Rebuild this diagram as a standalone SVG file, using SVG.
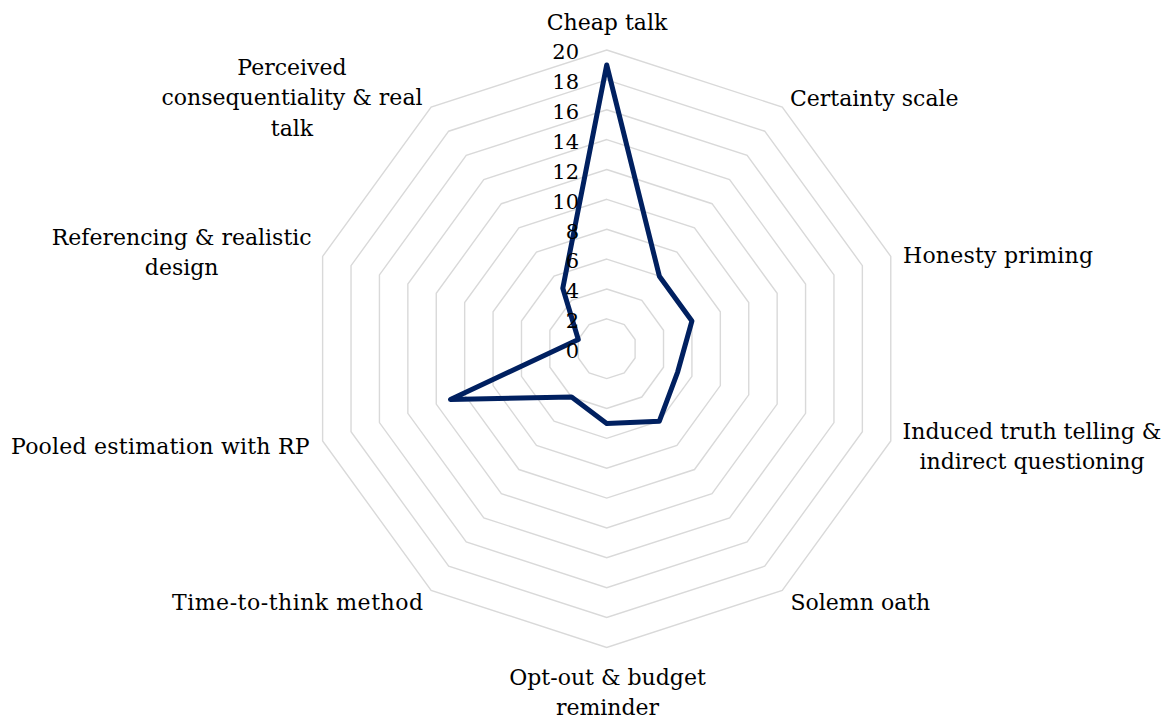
<svg xmlns="http://www.w3.org/2000/svg" width="1168" height="722" viewBox="0 0 1168 722">
<style>
.ring{fill:none;stroke:#d9d9d9;stroke-width:1.4}
.lbl{font-family:"DejaVu Serif","Liberation Serif",serif;font-size:22px;fill:#000}
.tick{font-family:"DejaVu Serif","Liberation Serif",serif;font-size:21px;fill:#000;text-anchor:end}
.series{fill:none;stroke:#002060;stroke-width:5;stroke-linejoin:round}
</style>
<rect width="1168" height="722" fill="#fff"/>
<g id="grid" transform="translate(606.7,348.7)">
<polygon class="ring" points="0,-29.87 17.56,-24.17 28.41,-9.23 28.41,9.23 17.56,24.17 0,29.87 -17.56,24.17 -28.41,9.23 -28.41,-9.23 -17.56,-24.17"/>
<polygon class="ring" points="0,-59.74 35.11,-48.33 56.82,-18.46 56.82,18.46 35.11,48.33 0,59.74 -35.11,48.33 -56.82,18.46 -56.82,-18.46 -35.11,-48.33"/>
<polygon class="ring" points="0,-89.61 52.67,-72.50 85.22,-27.69 85.22,27.69 52.67,72.50 0,89.61 -52.67,72.50 -85.22,27.69 -85.22,-27.69 -52.67,-72.50"/>
<polygon class="ring" points="0,-119.48 70.23,-96.66 113.63,-36.92 113.63,36.92 70.23,96.66 0,119.48 -70.23,96.66 -113.63,36.92 -113.63,-36.92 -70.23,-96.66"/>
<polygon class="ring" points="0,-149.35 87.79,-120.83 142.04,-46.15 142.04,46.15 87.79,120.83 0,149.35 -87.79,120.83 -142.04,46.15 -142.04,-46.15 -87.79,-120.83"/>
<polygon class="ring" points="0,-179.22 105.34,-144.99 170.45,-55.38 170.45,55.38 105.34,144.99 0,179.22 -105.34,144.99 -170.45,55.38 -170.45,-55.38 -105.34,-144.99"/>
<polygon class="ring" points="0,-209.09 122.90,-169.16 198.86,-64.61 198.86,64.61 122.90,169.16 0,209.09 -122.90,169.16 -198.86,64.61 -198.86,-64.61 -122.90,-169.16"/>
<polygon class="ring" points="0,-238.96 140.46,-193.32 227.26,-73.84 227.26,73.84 140.46,193.32 0,238.96 -140.46,193.32 -227.26,73.84 -227.26,-73.84 -140.46,-193.32"/>
<polygon class="ring" points="0,-268.83 158.01,-217.49 255.67,-83.07 255.67,83.07 158.01,217.49 0,268.83 -158.01,217.49 -255.67,83.07 -255.67,-83.07 -158.01,-217.49"/>
<polygon class="ring" points="0,-298.70 175.57,-241.65 284.08,-92.30 284.08,92.30 175.57,241.65 0,298.70 -175.57,241.65 -284.08,92.30 -284.08,-92.30 -175.57,-241.65"/>
</g>
<g id="series" transform="translate(606.7,348.7)">
<polygon class="series" points="0,-283.77 52.67,-72.50 85.22,-27.69 71.02,23.08 52.67,72.50 0,74.68 -35.11,48.33 -156.25,50.77 -28.41,-9.23 -43.90,-60.42"/>
</g>
<g id="ticks">
<text class="tick" x="579" y="358.0">0</text>
<text class="tick" x="579" y="328.1">2</text>
<text class="tick" x="579" y="298.3">4</text>
<text class="tick" x="579" y="268.4">6</text>
<text class="tick" x="579" y="238.5">8</text>
<text class="tick" x="579" y="208.7">10</text>
<text class="tick" x="579" y="178.8">12</text>
<text class="tick" x="579" y="148.9">14</text>
<text class="tick" x="579" y="119.1">16</text>
<text class="tick" x="579" y="89.2">18</text>
<text class="tick" x="579" y="59.3">20</text>
</g>
<g id="axis-labels" class="lbl">
<text id="lbl-cheap" class="lbl" x="607" y="30" text-anchor="middle">Cheap talk</text>
<text id="lbl-certainty" class="lbl" x="790" y="106">Certainty scale</text>
<text id="lbl-honesty" class="lbl" x="903" y="262.5" textLength="190" lengthAdjust="spacing">Honesty priming</text>
<text id="lbl-induced" class="lbl" text-anchor="middle"><tspan x="1032" y="438.5">Induced truth telling &amp;</tspan><tspan x="1032" y="468.5">indirect questioning</tspan></text>
<text id="lbl-oath" class="lbl" x="790.5" y="609.5">Solemn oath</text>
<text id="lbl-optout" class="lbl" text-anchor="middle"><tspan x="607.5" y="685">Opt-out &amp; budget</tspan><tspan x="607.5" y="715">reminder</tspan></text>
<text id="lbl-time" class="lbl" x="172" y="609.5" textLength="251" lengthAdjust="spacing">Time-to-think method</text>
<text id="lbl-pooled" class="lbl" x="11" y="453.5" textLength="298.5" lengthAdjust="spacing">Pooled estimation with RP</text>
<text id="lbl-ref" class="lbl" text-anchor="middle"><tspan x="181.7" y="245">Referencing &amp; realistic</tspan><tspan x="181.7" y="275">design</tspan></text>
<text id="lbl-perceived" class="lbl" text-anchor="middle"><tspan x="292" y="75">Perceived</tspan><tspan x="292" y="105">consequentiality &amp; real</tspan><tspan x="292" y="136">talk</tspan></text>
</g>
</svg>
